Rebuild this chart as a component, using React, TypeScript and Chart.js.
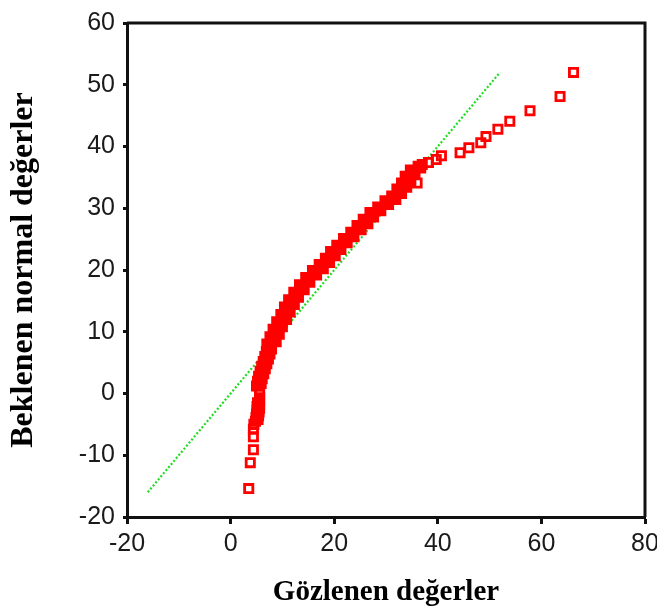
import { useEffect, useRef } from 'react';
import { Chart, registerables } from 'chart.js';

Chart.register(...registerables);

const observed = [
  // lower tail
  3.5, 3.8, 4.4, 4.4, 4.4, 4.5,
  // lower column
  4.8, 5.3, 4.9, 5.4, 5.0, 5.5, 5.1, 5.6, 5.1, 5.6, 5.2, 5.6, 5.6, 5.6, 5.6,
  // steep lower band
  5.0, 5.9, 5.2, 6.1, 5.4, 6.4, 5.7, 6.7, 6.0, 7.0, 6.3, 7.3, 6.6, 7.6, 6.9, 7.9, 7.2,
  // dense middle band
  7.0, 8.8, 8.2, 7.6, 9.4, 8.8, 8.2, 10.0, 9.5, 8.9, 10.8, 10.2, 9.7, 11.5, 11.0,
  10.4, 12.3, 11.7, 11.2, 13.1, 12.6, 12.2, 14.2, 13.8, 13.3, 15.3, 14.9, 14.5, 16.6, 16.2,
  15.8, 17.9, 17.5, 17.1, 19.1, 18.7, 18.3, 20.2, 19.8, 19.3, 21.3, 20.9, 20.5, 22.5, 22.1,
  21.8, 23.8, 23.5, 23.2, 25.2, 24.8, 24.4, 26.5, 26.0, 25.6, 27.6, 27.3, 26.9, 29.0, 28.7,
  28.4, 30.5, 30.2, 29.8, 31.9, 31.5, 31.1, 33.0, 32.6, 32.1, 34.0, 33.5, 33.0, 34.8, 34.3,
  33.7, 35.6, 35.1, 34.7, 36.7, 36.2,
  // upper tail
  36.0, 37.0, 38.2, 39.7, 40.7, 44.3, 46.0, 48.3, 49.3, 51.6, 53.9, 57.8, 63.6, 66.2,
];
const expected = [
  -15.4, -11.2, -9.1, -7.0, -5.8, -5.0,
  -4.5, -4.2, -3.9, -3.6, -3.3, -3.0, -2.7, -2.4, -2.1, -1.8, -1.5, -1.2, -0.7, -0.1, 0.5,
  1.2, 1.6, 2.0, 2.4, 2.8, 3.2, 3.6, 4.0, 4.4, 4.8, 5.2, 5.6, 6.0, 6.4, 6.8, 7.2, 7.6,
  8.0, 8.4, 8.8, 9.2, 9.6, 10.0, 10.4, 10.8, 11.2, 11.6, 12.0, 12.4, 12.8, 13.2, 13.6,
  14.0, 14.4, 14.8, 15.2, 15.6, 16.0, 16.4, 16.8, 17.2, 17.6, 18.0, 18.4, 18.8, 19.2, 19.6,
  19.9, 20.2, 20.5, 20.9, 21.2, 21.6, 21.9, 22.3, 22.6, 23.0, 23.3, 23.7, 24.0, 24.4, 24.7,
  25.1, 25.4, 25.8, 26.1, 26.5, 26.8, 27.2, 27.5, 27.9, 28.2, 28.6, 28.9, 29.3, 29.6, 30.0,
  30.2, 30.6, 30.8, 31.2, 31.4, 31.8, 32.0, 32.4, 32.7, 33.1, 33.4, 33.8, 34.1, 34.5, 34.8,
  35.2, 35.5, 35.9, 36.2, 36.5, 36.8,
  34.1, 37.1, 37.4, 37.9, 38.5, 39.0, 39.8, 40.6, 41.6, 42.8, 44.1, 45.8, 48.1, 52.0,
];

// Reference line (y = x) end points
const refLineX = [-16, 52];
const refLineY = [-16, 52];

const xTicks = [-20, 0, 20, 40, 60, 80];
const yTicks = [-20, -10, 0, 10, 20, 30, 40, 50, 60];

const xTitle = 'Gözlenen değerler';
const yTitle = 'Beklenen normal değerler';

export default function App() {
  const canvasRef = useRef<HTMLCanvasElement | null>(null);

  useEffect(() => {
    const canvas = canvasRef.current;
    if (!canvas) return;

    // Overlapping markers merge into a solid band, isolated ones stay hollow
    const overlapped = observed.map((x, i) =>
      observed.some(
        (x2, j) => j !== i && Math.abs(x2 - x) < 1.0 && Math.abs(expected[j] - expected[i]) < 0.45
      )
    );

    const framePlugin = {
      id: 'frame',
      afterDraw(chart: any) {
        const { ctx, chartArea: a } = chart;
        ctx.save();
        ctx.strokeStyle = '#111';
        ctx.lineWidth = 3;
        ctx.beginPath();
        ctx.moveTo(a.left, a.top);
        ctx.lineTo(a.right, a.top);
        ctx.lineTo(a.right, a.bottom);
        ctx.stroke();
        ctx.restore();
      },
    };

    const tickFont = { family: "'Liberation Sans', Arial, sans-serif", size: 25 };
    const titleFontFamily = "'Liberation Serif', 'Times New Roman', serif";

    const chart = new Chart(canvas, {
      type: 'scatter',
      data: {
        datasets: [
          {
            type: 'line',
            data: refLineX.map((x, i) => ({ x, y: refLineY[i] })),
            borderColor: '#1edc1e',
            borderWidth: 2.2,
            borderDash: [2, 2],
            pointRadius: 0,
            fill: false,
            order: 2,
          } as any,
          {
            data: observed.map((x, i) => ({ x, y: expected[i] })),
            pointStyle: 'rect',
            pointRadius: 5.8,
            pointHoverRadius: 5.8,
            borderColor: '#ff0000',
            backgroundColor: (c: any) =>
              c.type === 'data' && overlapped[c.dataIndex] ? '#ff0000' : 'rgba(0,0,0,0)',
            borderWidth: 2.8,
            order: 1,
          },
        ],
      },
      options: {
        animation: false,
        responsive: false,
        devicePixelRatio: 1,
        layout: { padding: { top: 23, right: 12, left: 0, bottom: 0 } },
        plugins: {
          legend: { display: false },
          tooltip: { enabled: false },
        },
        scales: {
          x: {
            type: 'linear',
            min: -20,
            max: 80,
            afterBuildTicks: (s: any) => {
              s.ticks = xTicks.map((v) => ({ value: v }));
            },
            afterFit: (s: any) => {
              s.height = 97;
              s.paddingLeft = 0;
              s.paddingRight = 0;
            },
            grid: {
              display: true,
              drawOnChartArea: false,
              drawTicks: true,
              tickLength: 7,
              tickWidth: 3,
              tickColor: '#111',
            },
            border: { display: true, color: '#111', width: 3 },
            ticks: {
              font: tickFont,
              color: '#1a1a1a',
              padding: 5,
              maxRotation: 0,
              autoSkip: false,
            },
            title: {
              display: true,
              text: xTitle,
              color: '#000',
              font: { family: titleFontFamily, size: 29, weight: 'bold' },
              padding: { top: 0, bottom: 4 },
            },
          },
          y: {
            type: 'linear',
            min: -20,
            max: 60,
            afterBuildTicks: (s: any) => {
              s.ticks = yTicks.map((v) => ({ value: v }));
            },
            afterFit: (s: any) => {
              s.width = 127;
              s.paddingTop = 0;
              s.paddingBottom = 0;
            },
            grid: {
              display: true,
              drawOnChartArea: false,
              drawTicks: true,
              tickLength: 4,
              tickWidth: 3,
              tickColor: '#111',
            },
            border: { display: true, color: '#111', width: 3 },
            ticks: {
              font: tickFont,
              color: '#1a1a1a',
              padding: 8,
              autoSkip: false,
            },
            title: {
              display: true,
              text: yTitle,
              color: '#000',
              font: { family: titleFontFamily, size: 32, weight: 'bold' },
              padding: { top: 5, bottom: 0 },
            },
          },
        },
      },
      plugins: [framePlugin],
    } as any);

    return () => chart.destroy();
  }, []);

  return (
    <div style={{ position: 'absolute', left: 0, top: 0, width: 657, height: 614, background: '#fff' }}>
      <canvas ref={canvasRef} width={657} height={614} style={{ display: 'block', width: 657, height: 614 }} />
    </div>
  );
}
